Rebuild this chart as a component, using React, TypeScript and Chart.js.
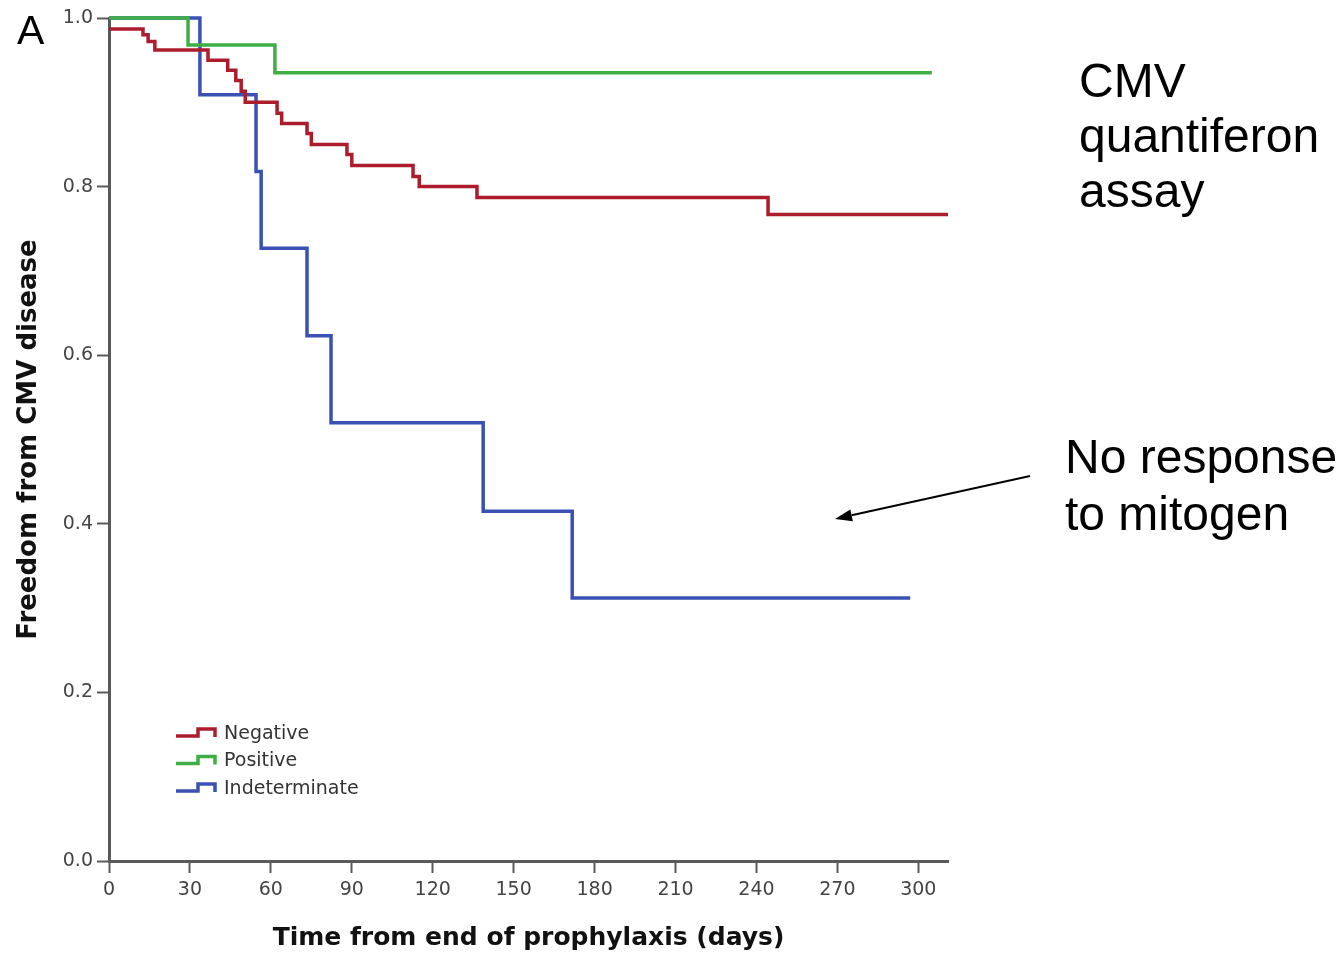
import React, { useEffect, useRef } from "react";
import { Chart, registerables } from "chart.js";

Chart.register(...registerables);

// ---- data ----
const xTickValues = [0, 30, 60, 90, 120, 150, 180, 210, 240, 270, 300];
const yTickValues = [0, 0.2, 0.4, 0.6, 0.8, 1.0];

const seriesLabels = ["Negative", "Positive", "Indeterminate"];
const seriesColors = ["#ac1c2c", "#3fae45", "#3a51b3"];

const negativeTimes = [0, 12.6, 14.5, 17, 36.7, 44, 47, 49, 50.5, 62.3, 64, 73.4, 75, 88.2, 90, 112.7, 115, 136.4, 244.3, 311];
const negativeSurv = [0.987, 0.98, 0.972, 0.962, 0.95, 0.938, 0.926, 0.913, 0.9, 0.887, 0.875, 0.863, 0.85, 0.838, 0.825, 0.812, 0.8, 0.787, 0.767, 0.767];

const positiveTimes = [0, 29.3, 61.5, 305];
const positiveSurv = [1.0, 0.968, 0.935, 0.935];

const indeterminateTimes = [0, 33.7, 54.5, 56.4, 73.4, 82.3, 138.7, 171.7, 297];
const indeterminateSurv = [1.0, 0.909, 0.818, 0.727, 0.623, 0.52, 0.415, 0.312, 0.312];

const xTitle = "Time from end of prophylaxis (days)";
const yTitle = "Freedom from CMV disease";
const panelLabel = "A";
const note1Lines = ["CMV", "quantiferon", "assay"];
const note2Lines = ["No response", "to mitogen"];

const toPoints = (t: number[], s: number[]) => t.map((x, i) => ({ x, y: s[i] }));

const legendPlugin = {
  id: "kmLegend",
  afterDraw(chart: any) {
    const ctx = chart.ctx;
    ctx.save();
    const x0 = 176;
    const y0 = 733;
    const rowH = 27.5;
    chart.data.datasets.forEach((ds: any, i: number) => {
      const y = y0 + i * rowH;
      ctx.strokeStyle = ds.borderColor;
      ctx.lineWidth = 3.5;
      ctx.lineJoin = "miter";
      ctx.beginPath();
      ctx.moveTo(x0, y + 3);
      ctx.lineTo(x0 + 22, y + 3);
      ctx.lineTo(x0 + 22, y - 4);
      ctx.lineTo(x0 + 39, y - 4);
      ctx.lineTo(x0 + 39, y + 4);
      ctx.stroke();
      ctx.fillStyle = "#333333";
      ctx.font = "19px 'DejaVu Sans'";
      ctx.textBaseline = "middle";
      ctx.textAlign = "left";
      ctx.fillText(ds.label, x0 + 48, y + 1);
    });
    ctx.restore();
  },
};

const annotationPlugin = {
  id: "kmNotes",
  afterDraw(chart: any) {
    const ctx = chart.ctx;
    ctx.save();
    ctx.fillStyle = "#000000";
    ctx.textAlign = "left";
    ctx.textBaseline = "alphabetic";
    ctx.font = "41px Arial, 'Liberation Sans', sans-serif";
    ctx.fillText(panelLabel, 17, 44);

    ctx.font = "48px Arial, 'Liberation Sans', sans-serif";
    const b1 = [97, 152, 207];
    note1Lines.forEach((l, i) => ctx.fillText(l, 1079, b1[i]));
    const b2 = [473, 530];
    note2Lines.forEach((l, i) => ctx.fillText(l, 1065, b2[i]));

    // arrow
    const sx = 1030, sy = 476, ex = 835, ey = 519;
    const ang = Math.atan2(ey - sy, ex - sx);
    const hl = 17, hw = 6;
    const bx = ex - hl * Math.cos(ang), by = ey - hl * Math.sin(ang);
    ctx.strokeStyle = "#000000";
    ctx.lineWidth = 2;
    ctx.beginPath();
    ctx.moveTo(sx, sy);
    ctx.lineTo(bx, by);
    ctx.stroke();
    ctx.beginPath();
    ctx.moveTo(ex, ey);
    ctx.lineTo(bx + hw * Math.sin(ang), by - hw * Math.cos(ang));
    ctx.lineTo(bx - hw * Math.sin(ang), by + hw * Math.cos(ang));
    ctx.closePath();
    ctx.fill();
    ctx.restore();
  },
};

export default function App() {
  const canvasRef = useRef<HTMLCanvasElement | null>(null);

  useEffect(() => {
    if (!canvasRef.current) return;
    const axisColor = "#5a5a5a";
    const chart = new Chart(canvasRef.current, {
      type: "line",
      data: {
        datasets: [
          { label: seriesLabels[0], data: toPoints(negativeTimes, negativeSurv), borderColor: seriesColors[0] },
          { label: seriesLabels[1], data: toPoints(positiveTimes, positiveSurv), borderColor: seriesColors[1] },
          { label: seriesLabels[2], data: toPoints(indeterminateTimes, indeterminateSurv), borderColor: seriesColors[2] },
        ].map((d) => ({
          ...d,
          stepped: "before" as const,
          borderWidth: 3.5,
          pointRadius: 0,
          fill: false,
          clip: false as any,
          borderJoinStyle: "miter" as const,
        })),
      },
      options: {
        responsive: false,
        animation: false,
        layout: { padding: { top: 18, right: 391, bottom: 0, left: 0 } },
        plugins: { legend: { display: false }, tooltip: { enabled: false } },
        scales: {
          x: {
            type: "linear",
            min: 0,
            max: 311,
            afterBuildTicks: (s: any) => {
              s.ticks = xTickValues.map((v) => ({ value: v }));
            },
            afterFit: (s: any) => {
              s.height = 97;
            },
            border: { display: true, color: axisColor, width: 3 },
            grid: { drawOnChartArea: false, drawTicks: true, tickLength: 12, tickColor: axisColor, tickWidth: 2 },
            ticks: {
              color: "#444444",
              font: { family: "'DejaVu Sans'", size: 19 },
              padding: 6,
              maxRotation: 0,
              callback: (v: any) => String(v),
            },
            title: {
              display: true,
              text: xTitle,
              color: "#111111",
              font: { family: "'DejaVu Sans'", size: 25, weight: "bold" },
              padding: { top: 0, bottom: 5 },
            },
          },
          y: {
            type: "linear",
            min: 0,
            max: 1,
            afterBuildTicks: (s: any) => {
              s.ticks = yTickValues.map((v) => ({ value: v }));
            },
            afterFit: (s: any) => {
              s.width = 109;
            },
            border: { display: true, color: axisColor, width: 3 },
            grid: { drawOnChartArea: false, drawTicks: true, tickLength: 12, tickColor: axisColor, tickWidth: 2 },
            ticks: {
              color: "#444444",
              font: { family: "'DejaVu Sans'", size: 19 },
              padding: 4,
              callback: (v: any) => Number(v).toFixed(1),
            },
            title: {
              display: true,
              text: yTitle,
              color: "#111111",
              font: { family: "'DejaVu Sans'", size: 26, weight: "bold" },
              padding: { top: 14, bottom: 0 },
            },
          },
        },
      },
      plugins: [legendPlugin, annotationPlugin],
    });
    return () => chart.destroy();
  }, []);

  return (
    <div style={{ position: "absolute", left: 0, top: 0, width: 1339, height: 958, background: "#ffffff" }}>
      <canvas ref={canvasRef} width={1339} height={958} style={{ display: "block", width: 1339, height: 958 }} />
    </div>
  );
}
